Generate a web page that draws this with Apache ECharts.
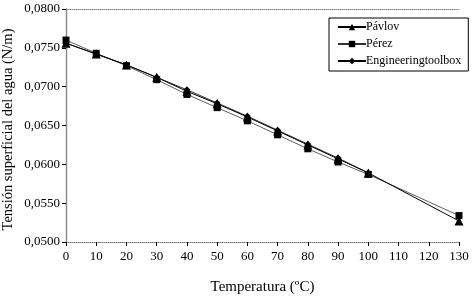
<!DOCTYPE html>
<html><head><meta charset="utf-8">
<script src="https://cdn.jsdelivr.net/npm/echarts@6/dist/echarts.min.js"></script>
<style>html,body{margin:0;padding:0;background:#fff}#c{width:473px;height:298px}</style>
</head><body><div id="c"></div>
<script>
const temps = [0, 10, 20, 30, 40, 50, 60, 70, 80, 90, 100, 130];
const pavlov = [0.0756, 0.0742, 0.0728, 0.0712, 0.0694, 0.0678, 0.0661, 0.0643, 0.0625, 0.0607, 0.0589, 0.0527];
const perez = [0.0760, 0.0743, 0.0727, 0.0709, 0.0690, 0.0673, 0.0656, 0.0638, 0.0620, 0.0603, 0.0587, 0.0534];
const toolboxT = [0, 10, 20, 30, 40, 50, 60, 70, 80, 90, 100];
const toolbox = [0.0756, 0.0742, 0.0728, 0.0712, 0.0696, 0.0679, 0.0662, 0.0644, 0.0626, 0.0608, 0.0589];
const names = ['Pávlov', 'Pérez', 'Engineeringtoolbox'];
const xTitle = 'Temperatura (ºC)';
const yTitle = 'Tensión superficial del agua (N/m)';

const pair = (xs, ys) => xs.map((x, i) => [x, ys[i]]);
const font = 'Liberation Serif';
const chart = echarts.init(document.getElementById('c'));
chart.setOption({
  animation: false,
  backgroundColor: '#fff',
  textStyle: { fontFamily: font },
  grid: { left: 66, right: 14, top: 9, bottom: 56, outerBoundsMode: 'none', containLabel: false },
  legend: {
    data: names,
    orient: 'vertical',
    left: 329, top: 18,
    width: 130,
    padding: [3, 7, 4, 8],
    itemGap: 5,
    itemWidth: 28, itemHeight: 8,
    borderColor: '#000', borderWidth: 1,
    backgroundColor: '#fff',
    textStyle: { fontFamily: font, fontSize: 12, color: '#000', padding: [0, 0, 0, -5] }
  },
  xAxis: [{
    type: 'value', min: 0, max: 130, interval: 10,
    name: xTitle, nameLocation: 'middle', nameGap: 38,
    nameTextStyle: { fontFamily: font, fontSize: 15, color: '#000' },
    axisLine: { lineStyle: { color: '#777', type: [1, 1], width: 1 } },
    axisTick: { show: true, length: 4, lineStyle: { color: '#000' } },
    axisLabel: { fontFamily: font, fontSize: 13, color: '#000', margin: 8 },
    splitLine: { show: false }
  }, {
    type: 'value', position: 'top', min: 0, max: 130,
    axisLine: { show: true, lineStyle: { color: '#888', type: [1, 1], width: 1 } },
    axisTick: { show: false }, axisLabel: { show: false }, splitLine: { show: false }
  }],
  yAxis: [{
    type: 'value', min: 0.05, max: 0.08, interval: 0.005,
    name: yTitle, nameLocation: 'middle', nameGap: 50, nameMoveOverlap: false,
    nameTextStyle: { fontFamily: font, fontSize: 14.5, color: '#000', padding: [0, 8, 0, 0] },
    axisLine: { show: true, onZero: false, lineStyle: { color: '#000', width: 1.2 } },
    axisTick: { show: true, length: 4, lineStyle: { color: '#000' } },
    axisLabel: { fontFamily: font, fontSize: 13, color: '#000', margin: 6,
      formatter: v => v.toFixed(4).replace('.', ',') },
    splitLine: { show: false }
  }, {
    type: 'value', position: 'right', min: 0.05, max: 0.08,
    axisLine: { show: true, lineStyle: { color: '#888', width: 1 } },
    axisTick: { show: false }, axisLabel: { show: false }, splitLine: { show: false }
  }],
  series: [
    { name: names[2], type: 'line', data: pair(toolboxT, toolbox),
      symbol: 'diamond', symbolSize: 7,
      lineStyle: { color: '#000', width: 0.8 }, itemStyle: { color: '#000' } },
    { name: names[1], type: 'line', data: pair(temps, perez),
      symbol: 'rect', symbolSize: 7,
      lineStyle: { color: '#333', width: 0.8 }, itemStyle: { color: '#000' } },
    { name: names[0], type: 'line', data: pair(temps, pavlov),
      symbol: 'triangle', symbolSize: 9,
      lineStyle: { color: '#000', width: 1 }, itemStyle: { color: '#000' } }
  ]
});
</script></body></html>
